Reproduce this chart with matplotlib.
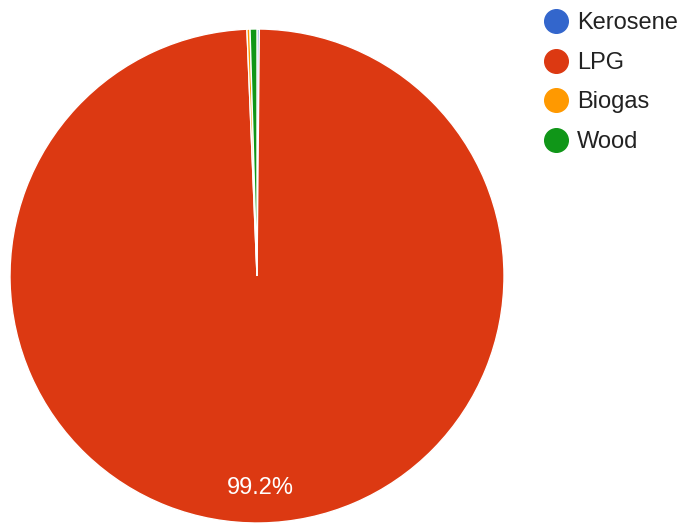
import matplotlib.pyplot as plt
from matplotlib.lines import Line2D

plt.rcParams['font.family'] = ['Liberation Sans', 'DejaVu Sans']

fuels = ["Kerosene", "LPG", "Biogas", "Wood"]
shares = [0.15, 99.2, 0.2, 0.45]
colors = ["#3366cc", "#dc3912", "#ff9900", "#109618"]

fig = plt.figure(figsize=(6.85, 5.26), dpi=100)
# pie centre ~ (257, 276) px, radius ~247 px
ax = fig.add_axes([10 / 685, 3 / 526, 494 / 685, 494 / 526])
wedges, texts, autotexts = ax.pie(
    shares, colors=colors, startangle=90, counterclock=False,
    autopct=lambda p: f"{p:.1f}%" if p > 5 else "",
    pctdistance=0.86, radius=1.0,
    wedgeprops=dict(edgecolor="white", linewidth=1.0),
    textprops=dict(color="white", fontsize=17))
ax.set_xlim(-1, 1)
ax.set_ylim(-1, 1)
ax.set_aspect("equal")

handles = [Line2D([0], [0], marker="o", linestyle="", markersize=17,
                  markerfacecolor=c, markeredgecolor=c) for c in colors]
fig.legend(handles, fuels, loc="upper left", bbox_to_anchor=(530 / 685, 1 - 3 / 526),
           frameon=False, fontsize=17, handletextpad=0.2, labelspacing=0.74,
           handlelength=1.4, borderaxespad=0, labelcolor="#222222")

fig.savefig("out.png", dpi=100, facecolor="white")
